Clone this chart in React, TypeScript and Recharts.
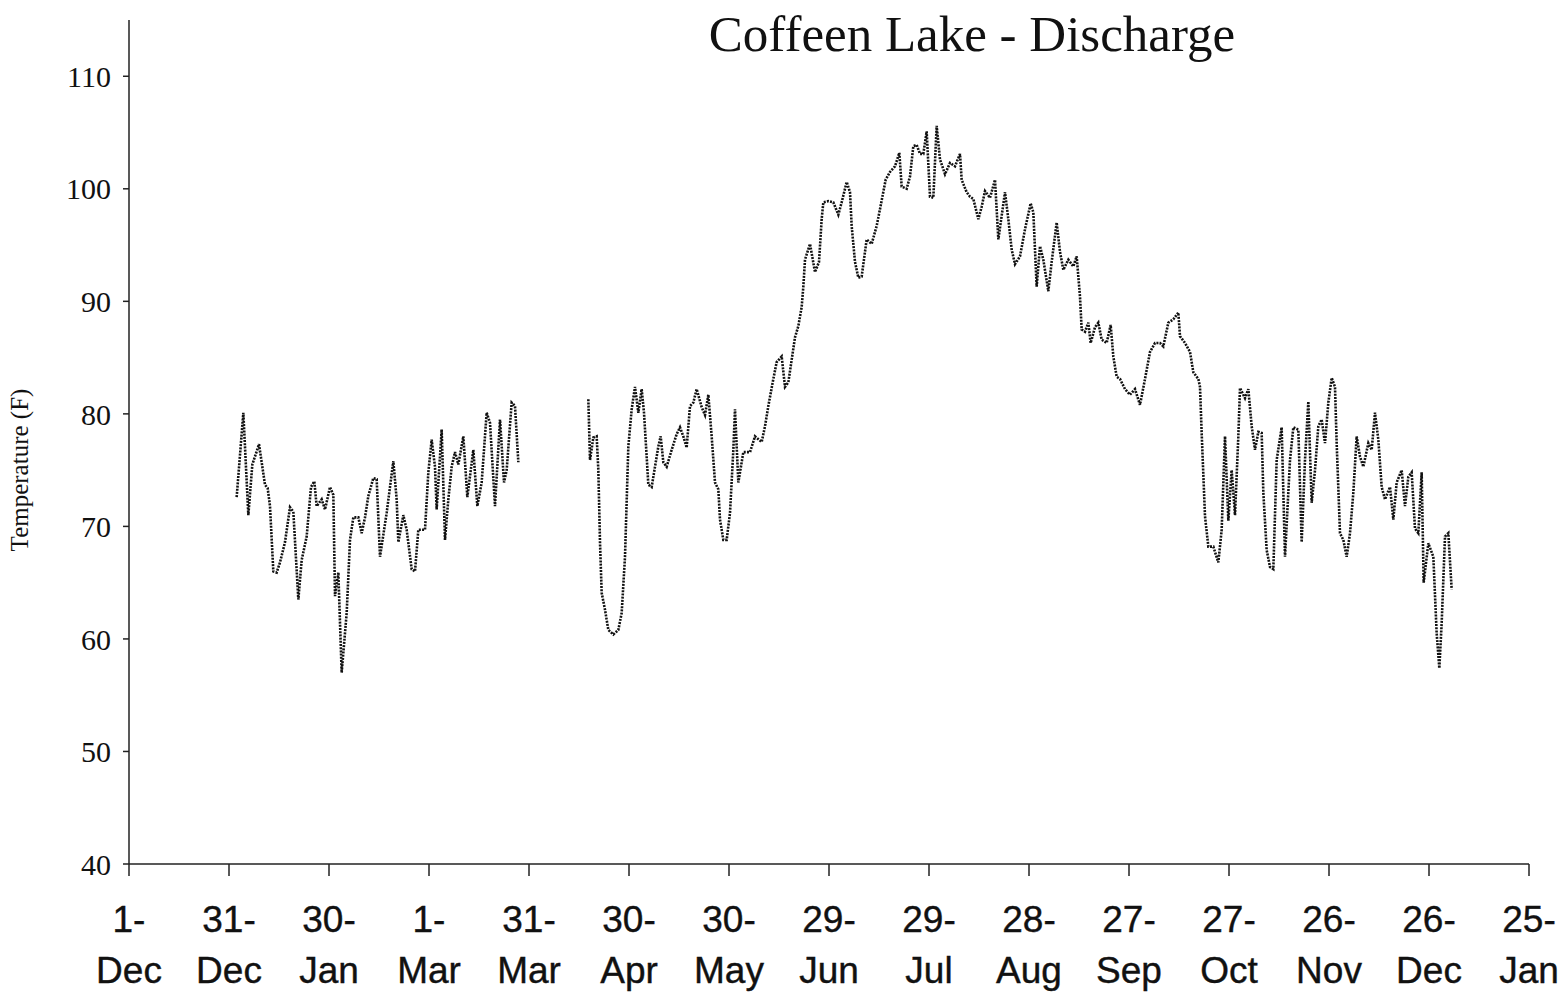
import { CartesianGrid, Line, LineChart, XAxis, YAxis } from "recharts";

// days counted from 1-Dec (axis start), temperatures in F
const winterDays = [
  32.3, 34.3, 35.8, 37.0, 39.0, 40.8, 41.6, 42.3, 43.3, 44.3, 45.3, 46.8, 48.3, 49.3, 50.8, 51.8,
  53.3, 54.6, 55.6, 56.3, 57.8, 58.8, 60.3, 61.3, 61.8, 62.8, 63.8, 65.3, 66.3, 67.3, 68.8, 69.8,
  70.8, 71.8, 73.3, 74.3, 75.3, 77.3, 79.3, 80.3, 80.8, 82.3, 83.3, 84.8, 85.8, 86.8, 88.8, 89.8,
  90.8, 91.8, 92.3, 93.8, 94.8, 95.8, 96.8, 97.8, 98.8, 100.3, 101.5, 103.3, 104.5, 105.8, 107.3,
  108.3, 109.8, 111.3, 112.5, 113.3, 114.8, 115.8, 116.8,
];
const winterTemps = [
  72.6, 80.1, 71.0, 75.5, 77.3, 73.7, 73.4, 71.8, 66.0, 65.9, 66.8, 68.6, 71.7, 71.3, 63.5, 67.0,
  69.1, 73.5, 74.0, 71.8, 72.4, 71.5, 73.5, 72.8, 63.8, 65.9, 57.0, 62.3, 68.8, 70.8, 70.8, 69.4,
  70.8, 72.7, 74.3, 74.2, 67.3, 71.2, 75.8, 72.4, 68.6, 71.0, 69.7, 66.2, 66.0, 69.7, 69.7, 74.8,
  77.7, 75.3, 71.5, 78.6, 68.8, 72.4, 75.3, 76.6, 75.5, 78.0, 72.6, 76.8, 71.8, 73.9, 80.1,
  79.2, 71.8, 79.5, 73.9, 75.0, 81.0, 80.7, 75.7,
];

const mainDays = [
  137.8, 138.3, 139.3, 140.3, 140.8, 141.3, 141.8, 142.8, 143.8, 145.3, 146.8, 147.8, 148.8, 149.8,
  150.8, 151.8, 152.8, 153.8, 154.5, 155.3, 155.8, 156.8, 157.8, 158.8, 159.5, 160.3, 161.3, 162.8,
  164.3, 165.3, 166.3, 167.3, 168.3, 169.3, 170.3, 171.8, 172.8, 173.8, 174.8, 175.8, 176.8, 177.3,
  178.3, 179.3, 180.3, 181.3, 181.8, 182.8, 184.3, 186.3, 187.8, 189.8, 190.8, 191.8, 193.3, 194.3,
  195.8, 196.8, 197.8, 198.8, 199.8, 200.8, 201.8, 202.3, 202.8, 204.3, 205.8, 207.0, 207.8, 208.3,
  209.8, 211.3, 212.8, 213.8, 215.3, 216.3, 216.8, 217.8, 218.8, 219.8, 221.3, 222.8, 224.3, 225.5,
  227.0, 228.3, 229.8, 231.1, 231.8, 233.3, 234.3, 235.3, 236.3, 237.3, 238.3, 239.3, 240.3, 241.3,
  242.3, 243.3, 244.8, 246.3, 247.8, 249.3, 249.8, 251.3, 252.3, 253.3, 254.8, 255.8, 256.8, 258.3,
  259.8, 260.8, 262.8, 263.8, 264.8, 265.8, 267.3, 268.8, 270.5, 271.3, 272.3, 273.3, 274.3, 275.8,
  276.8, 278.3, 279.3, 280.3, 281.8, 283.3, 284.3, 285.3, 285.8, 286.8, 287.8, 288.5, 289.8, 290.8,
  291.8, 293.3, 294.5, 295.3, 296.3, 297.3, 298.8, 300.3, 301.8, 303.3, 304.8, 306.3, 307.8, 309.3,
  310.3, 311.8, 313.3, 314.8, 315.3, 316.8, 318.3, 319.3, 320.8, 321.3, 321.8, 322.8, 323.8, 325.3,
  326.8, 327.8, 328.8, 329.8, 330.8, 331.8, 332.8, 333.3, 334.8, 335.8, 336.8, 337.8, 338.8, 339.8,
  340.3, 341.3, 342.3, 343.3, 344.3, 345.8, 346.8, 348.3, 349.3, 350.8, 351.8, 352.8, 353.8, 354.8,
  355.8, 356.8, 357.8, 358.8, 359.8, 360.8, 361.8, 362.3, 363.3, 364.3, 365.3, 366.3, 367.3, 368.3,
  369.3, 370.3, 371.8, 372.8, 373.8, 374.8, 375.8, 376.8, 378.3, 379.3, 380.3, 381.8, 382.8, 383.8,
  384.8, 385.8, 386.8, 387.8, 388.4, 389.8, 391.3, 392.3, 393.1, 393.8, 394.8, 395.8, 396.8,
];
const mainTemps = [
  81.3, 75.9, 77.9, 78.0, 75.0, 68.6, 64.1, 62.6, 60.8, 60.4, 60.8, 62.3, 67.3, 77.1,
  80.4, 82.4, 80.1, 82.2, 80.1, 76.2, 73.7, 73.5, 75.3, 77.1, 78.0, 75.7, 75.3, 76.8,
  78.2, 78.8, 78.0, 77.0, 80.7, 81.0, 82.2, 80.6, 79.9, 81.7, 78.0, 73.9, 73.3, 70.6,
  68.8, 68.8, 71.2, 76.8, 80.4, 73.9, 76.6, 76.6, 78.0, 77.5, 78.9, 80.7, 83.1, 84.6,
  85.1, 82.4, 82.8, 84.8, 86.8, 87.8, 89.5, 91.3, 93.7, 95.1, 92.6, 93.5, 97.3, 98.8,
  98.9, 98.8, 97.7, 98.8, 100.6, 99.7, 96.7, 93.5, 92.1, 92.2, 95.5, 95.1, 96.7, 98.5,
  100.8, 101.5, 102.0, 103.2, 100.2, 100.0, 101.1, 103.8, 103.9, 103.1, 103.1, 105.1, 99.3, 99.2,
  105.6, 102.6, 101.3, 102.3, 102.0, 103.1, 100.8, 99.7, 99.3, 99.1, 97.3, 98.4, 99.8, 99.2,
  100.8, 95.5, 99.7, 97.3, 94.6, 93.3, 94.0, 96.4, 98.7, 97.9, 91.3, 94.9, 93.7, 90.9,
  93.5, 97.0, 94.4, 92.8, 93.7, 93.1, 94.0, 90.4, 87.5, 87.3, 88.1, 86.3, 87.7, 88.1,
  86.6, 86.3, 87.9, 85.1, 83.3, 83.1, 82.2, 81.7, 82.2, 80.8, 83.1, 85.5, 86.3, 86.3,
  86.0, 88.1, 88.4, 89.0, 86.9, 86.3, 85.5, 83.7, 83.1, 82.4, 78.3, 70.9, 68.2, 68.2,
  66.8, 69.7, 78.0, 70.5, 75.0, 71.0, 78.0, 82.3, 81.4, 82.2, 78.9, 76.8, 78.4, 78.3,
  73.0, 67.9, 66.4, 66.2, 75.9, 78.8, 67.3, 75.9, 78.8, 78.6, 68.6, 75.9, 81.1, 72.1,
  75.0, 78.9, 79.5, 77.4, 81.0, 83.2, 82.4, 77.4, 69.4, 68.8, 67.3, 69.4, 73.0, 78.0,
  76.2, 75.3, 77.4, 76.8, 80.1, 77.7, 73.5, 72.4, 73.5, 70.6, 73.9, 75.0, 71.8, 74.4,
  74.8, 69.8, 69.4, 74.8, 65.0, 68.5, 67.3, 60.5, 57.4, 61.4, 69.1, 69.4, 64.4,
];

const tickDays = [0, 30, 60, 90, 120, 150, 180, 210, 240, 270, 300, 330, 360, 390, 420];
const tickTop = ["1-", "31-", "30-", "1-", "31-", "30-", "30-", "29-", "29-", "28-", "27-", "27-", "26-", "26-", "25-"];
const tickBottom = ["Dec", "Dec", "Jan", "Mar", "Mar", "Apr", "May", "Jun", "Jul", "Aug", "Sep", "Oct", "Nov", "Dec", "Jan"];
const tempTicks = [40, 50, 60, 70, 80, 90, 100, 110];

const data = [
  ...winterDays.map((day, i) => ({ day, temp: winterTemps[i] as number | null })),
  { day: 127, temp: null },
  ...mainDays.map((day, i) => ({ day, temp: mainTemps[i] as number | null })),
];

function DateTick({ x, y, payload }: { x?: number; y?: number; payload?: { value: number } }) {
  const idx = tickDays.indexOf(payload?.value ?? -1);
  if (idx < 0) return null;
  return (
    <text
      x={x}
      y={y}
      textAnchor="middle"
      fontFamily="'Liberation Sans', Arial, sans-serif"
      fontSize={37}
      fill="#111"
      stroke="#111"
      strokeWidth={0.4}
    >
      <tspan x={x} dy={54}>{tickTop[idx]}</tspan>
      <tspan x={x} dy={51}>{tickBottom[idx]}</tspan>
    </text>
  );
}

export default function App() {
  return (
    <div style={{ position: "absolute", left: 0, top: 0, width: 1560, height: 1002, background: "#fff" }}>
      <div
        style={{
          position: "absolute",
          left: 972,
          top: 7,
          transform: "translateX(-50%)",
          whiteSpace: "nowrap",
          fontFamily: "'Liberation Serif', 'Times New Roman', serif",
          fontSize: 51,
          lineHeight: "55px",
          color: "#111",
        }}
      >
        Coffeen Lake - Discharge
      </div>
      <div
        style={{
          position: "absolute",
          left: 20,
          top: 470,
          transform: "translate(-50%, -50%) rotate(-90deg)",
          whiteSpace: "nowrap",
          fontFamily: "'Liberation Serif', 'Times New Roman', serif",
          fontSize: 25,
          color: "#111",
        }}
      >
        Temperature (F)
      </div>
      <LineChart width={1560} height={1002} data={data} margin={{ top: 20, right: 31, left: 69, bottom: 0 }}>
        <CartesianGrid stroke="none" />
        <XAxis
          type="number"
          dataKey="day"
          domain={[0, 420]}
          ticks={tickDays}
          interval={0}
          height={138}
          stroke="#222"
          strokeWidth={1.5}
          tickSize={12}
          tick={<DateTick />}
        />
        <YAxis
          type="number"
          domain={[40, 115]}
          ticks={tempTicks}
          width={60}
          stroke="#222"
          strokeWidth={1.5}
          tickSize={6}
          tickMargin={12}
          tick={{ fill: "#111", fontSize: 30, fontFamily: "'Liberation Serif', 'Times New Roman', serif" }}
          allowDataOverflow
        />
        <Line
          type="linear"
          dataKey="temp"
          stroke="#111"
          strokeWidth={2.6}
          strokeDasharray="2 1.2"
          dot={false}
          connectNulls={false}
          isAnimationActive={false}
        />
      </LineChart>
    </div>
  );
}
